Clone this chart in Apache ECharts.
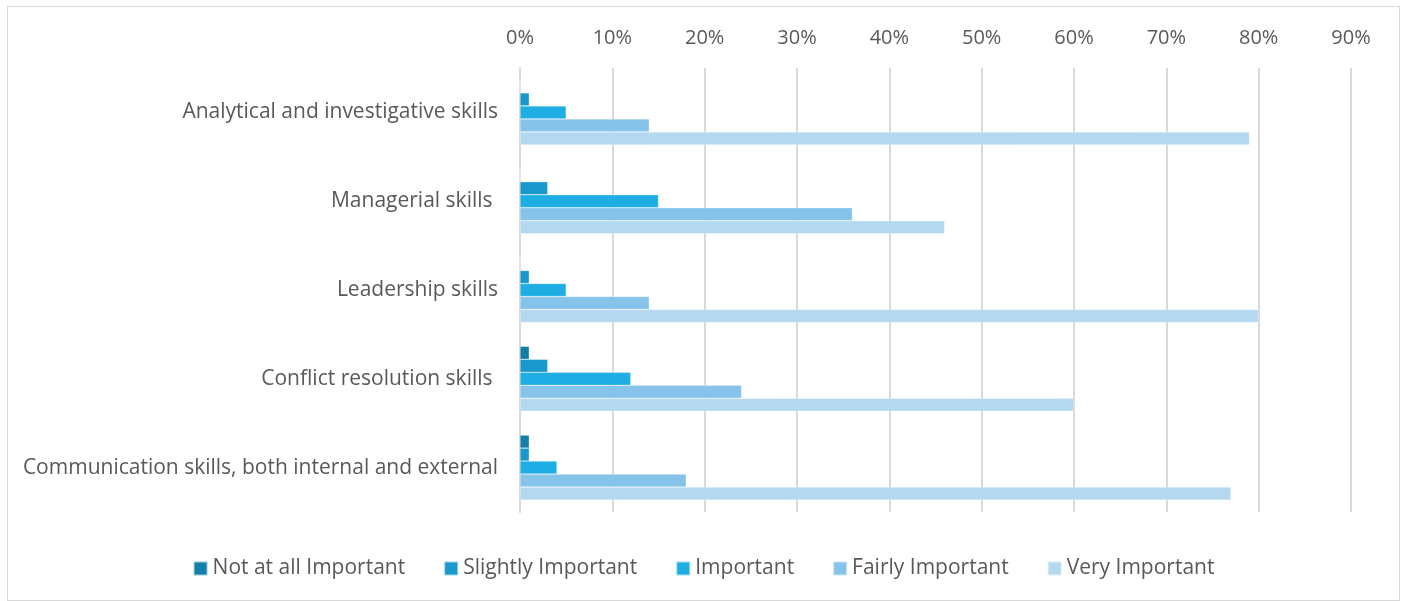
<!DOCTYPE html>
<html>
<head>
<meta charset="utf-8">
<script src="https://cdn.jsdelivr.net/npm/echarts@6/dist/echarts.min.js"></script>
<style>
  html, body { margin: 0; padding: 0; background: #fff; }
  #frame { position: absolute; left: 7px; top: 6px; width: 1393px; height: 595px; border: 1px solid #d9d9d9; box-sizing: border-box; }
  #chart { width: 1407px; height: 601px; }
</style>
</head>
<body>
<div id="chart"></div>
<div id="frame"></div>
<script>
// Skill areas, listed top to bottom
const categories = [
  'Analytical and investigative skills',
  'Managerial skills ',
  'Leadership skills',
  'Conflict resolution skills ',
  'Communication skills, both internal and external'
];

// Share of respondents (%) per importance rating
const notAtAll   = [0, 0, 0, 1, 1];
const slightly   = [1, 3, 1, 3, 1];
const important  = [5, 15, 5, 12, 4];
const fairly     = [14, 36, 14, 24, 18];
const very       = [79, 46, 80, 60, 77];

const seriesNames = ['Not at all Important', 'Slightly Important', 'Important', 'Fairly Important', 'Very Important'];
const seriesData = [notAtAll, slightly, important, fairly, very];
const seriesColors = ['#137fa8', '#1898cc', '#1eaee4', '#86c3ea', '#b4d8f0'];

const font = 'Open Sans, Segoe UI, sans-serif';
const chart = echarts.init(document.getElementById('chart'));
chart.setOption({
  animation: false,
  textStyle: { fontFamily: font, color: '#595959' },
  grid: { left: 520, right: 56, top: 68, bottom: 89, containLabel: false },
  xAxis: {
    type: 'value',
    position: 'top',
    min: 0, max: 90, interval: 10,
    axisLabel: { formatter: '{value}%', fontSize: 20, color: '#595959', fontFamily: font, margin: 20 },
    axisLine: { show: false },
    axisTick: { show: false },
    splitLine: { lineStyle: { color: '#d9d9d9', width: 2 } }
  },
  yAxis: {
    type: 'category',
    inverse: true,
    data: categories,
    axisLine: { show: true, lineStyle: { color: '#d9d9d9', width: 2 } },
    axisTick: { show: false },
    axisLabel: { fontSize: 21, color: '#595959', fontFamily: font, margin: 22, padding: [4, 0, 0, 0] }
  },
  legend: {
    bottom: 17,
    left: 'center',
    itemWidth: 14,
    itemHeight: 14,
    itemGap: 38,
    icon: 'rect',
    textStyle: { fontSize: 21, color: '#595959', fontFamily: font },
    data: seriesNames
  },
  series: seriesNames.map((name, i) => ({
    name,
    type: 'bar',
    data: seriesData[i],
    barWidth: 13,
    barGap: '0%',
    itemStyle: { color: seriesColors[i], borderColor: 'rgba(255,255,255,0.6)', borderWidth: 0.5 }
  }))
});
</script>
</body>
</html>
